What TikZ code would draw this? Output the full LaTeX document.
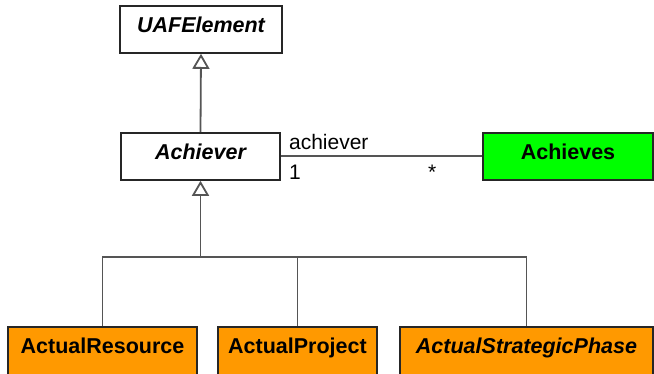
\documentclass[tikz,border=0pt]{standalone}
\usepackage{fontspec}
\setmainfont{Liberation Sans}
\usetikzlibrary{positioning, arrows.meta}

\definecolor{umlorange}{HTML}{FF9900}
\definecolor{umlgreen}{HTML}{00FF00}
\definecolor{umlline}{HTML}{555555}

\begin{document}
\begin{tikzpicture}[
    x=1pt, y=1pt,
    box/.style={rectangle, draw=black!85, line width=1.8pt, fill=white, anchor=north, inner xsep=0pt, inner ysep=11pt, text height=16pt, text depth=9pt, font=\fontsize{21.5}{25}\selectfont\bfseries},
    abstractbox/.style={box, font=\fontsize{21.5}{25}\selectfont\bfseries\itshape},
    leaf/.style={box, fill=umlorange, text depth=24pt},
    assocbox/.style={box, fill=umlgreen},
    conn/.style={draw=umlline, line width=1.8pt},
    gen/.style={conn, -{Triangle[open, length=15pt, width=17pt, fill=white]}},
    lbl/.style={font=\fontsize{21}{25}\selectfont, inner sep=0pt}
]
\clip (0,0) rectangle (654,373);
\fill[white] (0,0) rectangle (654,373);

\node[abstractbox, minimum width=162pt] (uaf) at (201,368) {UAFElement};
\node[abstractbox, minimum width=159pt] (ach) at (200.5,241) {Achiever};
\node[assocbox, minimum width=170pt] (achs) at (568,241) {Achieves};

\node[leaf, minimum width=189pt] (res) at (102.5,47) {ActualResource};
\node[leaf, minimum width=159pt] (prj) at (297.5,47) {ActualProject};
\node[leaf, minimum width=253pt, font=\fontsize{21.5}{25}\selectfont\bfseries\itshape] (asp) at (526.5,47) {ActualStrategicPhase};

% generalization
\draw[gen] (ach.north) -- (uaf.south);
\coordinate (bus) at (ach.south |- 0,116);
\draw[gen] (bus) -- (ach.south);
\draw[conn] (res.north) |- (bus) -| (asp.north);
\draw[conn] (prj.north) -- (prj.north |- bus);

% association
\draw[conn] (ach.east) -- (achs.west);
\node[lbl, anchor=south west] (rolename) at ([xshift=8pt, yshift=6pt]ach.east) {achiever};
\node[lbl, anchor=north west] (multa) at ([xshift=8pt, yshift=-8pt]ach.east) {1};
\node[lbl, anchor=north] (multb) at ([xshift=-50pt, yshift=-8pt]achs.west) {*};

\end{tikzpicture}
\end{document}
